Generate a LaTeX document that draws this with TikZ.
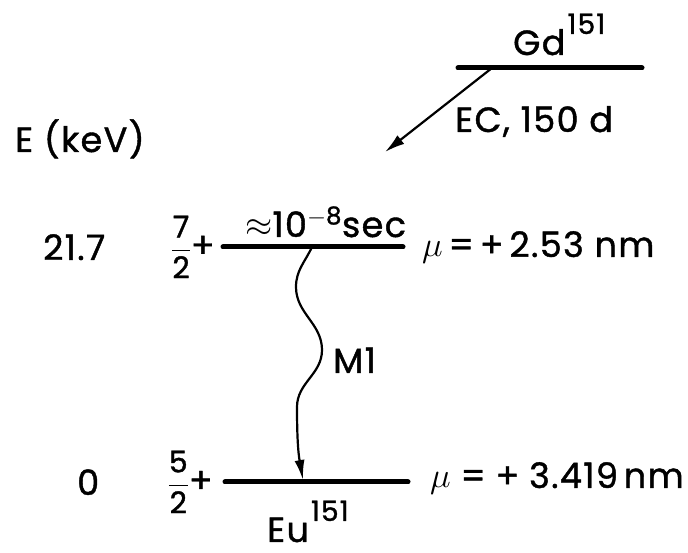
\documentclass[tikz,border=0pt]{standalone}
\usepackage{fix-cm}
\usepackage{amsmath}
\usepackage{graphicx}
\usepackage{fontspec}
\setmainfont{Poppins}[FakeBold=1.2, LetterSpace=4]
\usetikzlibrary{arrows.meta}
\newcommand{\nucl}[2]{#1\kern2pt\raisebox{0.6em}{\scalebox{0.8}{#2}}}
\newcommand{\spinfr}[1]{{\fontsize{30}{32}\selectfont$\dfrac{\text{#1}}{\text{2}}$}+}

\begin{document}
\begin{tikzpicture}[x=1pt, y=1pt, every node/.style={font=\fontsize{35}{40}\selectfont, inner sep=0pt}, level/.style={line width=5pt, line cap=round}, decay/.style={line width=2.2pt, -{Latex[length=20pt,width=11pt]}}, gamma/.style={line width=2.2pt, -{Latex[length=20pt,width=10pt]}}]
\useasboundingbox (0,0) rectangle (688,553);
\coordinate (gd-l) at (458,485);
\coordinate (gd-r) at (642,485);
\coordinate (ec-start) at (492,485);
\coordinate (ec-end) at (385,401);
\coordinate (up-l) at (223,306);
\coordinate (up-r) at (403,306);
\coordinate (lo-l) at (225,71);
\coordinate (lo-r) at (408,71);
\coordinate (m1-start) at (312,306);
\coordinate (m1-end) at (303,73);
\node[anchor=base west] (gd) at (513,498) {\nucl{Gd}{151}};
\node[anchor=base west] (ec) at (455,421) {EC, 150 d};
\node[anchor=base west] (ekev) at (15,401) {E (keV)};
\node[anchor=base west] (eup) at (43,293) {21.7};
\node[anchor=east] (jup) at (215,306) {\spinfr{7}};
\node[anchor=base west] (life) at (245,316) {$\approx$10$^{-\text{8}}$sec};
\node[anchor=base west] (muup) at (422,296) {$\mu$\,=\,+\,2.53 nm};
\node[anchor=base west] (m1) at (333,180) {M1};
\node[anchor=base west] (elo) at (77,58) {0};
\node[anchor=east] (jlo) at (213,71) {\spinfr{5}};
\node[anchor=base west] (mulo) at (430,65) {$\mu$\;=\;+\;3.419\,nm};
\node[anchor=base west] (eu) at (267,11) {\nucl{Eu}{151}};
\draw[level] (gd-l) -- (gd-r);
\draw[level] (up-l) -- (up-r);
\draw[level] (lo-l) -- (lo-r);
\draw[decay] (ec-start) -- (ec-end);
\draw[gamma] (m1-start) to[out=-115,in=90] (296,266) to[out=-90,in=90] (322,203) to[out=-90,in=90] (297,146) to[out=-90,in=100] (m1-end);
\end{tikzpicture}
\end{document}
